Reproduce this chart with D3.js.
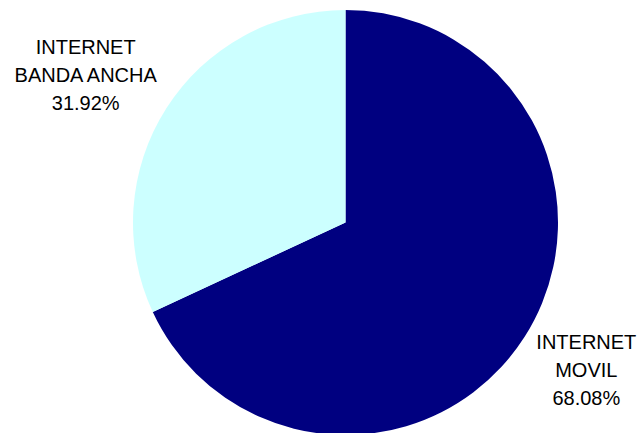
<!DOCTYPE html>
<html>
<head>
<meta charset="utf-8">
<script src="https://cdn.jsdelivr.net/npm/d3@7"></script>
<style>
  body { margin: 0; background: #fff; }
  svg text { font-family: "Liberation Sans", Arial, sans-serif; }
</style>
</head>
<body>
<div id="chart"></div>
<script>
// data
var categories = ["INTERNET MOVIL", "INTERNET BANDA ANCHA"];
var labelLines = [["INTERNET", "MOVIL"], ["INTERNET", "BANDA ANCHA"]];
var values = [68.08, 31.92];
var colors = ["#000080", "#ccffff"];

var w = 639, h = 433;
var cx = 345.5, cy = 222.5, radius = 212.5;
// label nudges (x) per slice, Excel-style outside labels
var labelNudge = [9, -28];

var svg = d3.select("#chart").append("svg")
	.attr("width", w)
	.attr("height", h);

var pie = d3.pie().sort(null).value(function(d) { return d; });
var arcs = pie(values);

var arc = d3.arc().innerRadius(0).outerRadius(radius);
var labelArc = d3.arc().innerRadius(275).outerRadius(275);

var g = svg.append("g").attr("transform", "translate(" + cx + "," + cy + ")");

g.selectAll("path")
	.data(arcs)
	.enter().append("path")
	.attr("d", arc)
	.attr("fill", function(d, i) { return colors[i]; });

var lineH = 28;
var labels = g.selectAll("text.lbl")
	.data(arcs)
	.enter().append("text")
	.attr("class", "lbl")
	.attr("text-anchor", "middle")
	.attr("font-size", 20)
	.attr("fill", "#000")
	.attr("transform", function(d, i) {
		var c = labelArc.centroid(d);
		return "translate(" + (c[0] + labelNudge[i]) + "," + c[1] + ")";
	});

labels.each(function(d, i) {
	var t = d3.select(this);
	var lines = labelLines[i].concat([values[i].toFixed(2) + "%"]);
	lines.forEach(function(s, k) {
		t.append("tspan")
			.attr("x", 0)
			.attr("y", (k - 1) * lineH + 7)
			.text(s);
	});
});
</script>
</body>
</html>
